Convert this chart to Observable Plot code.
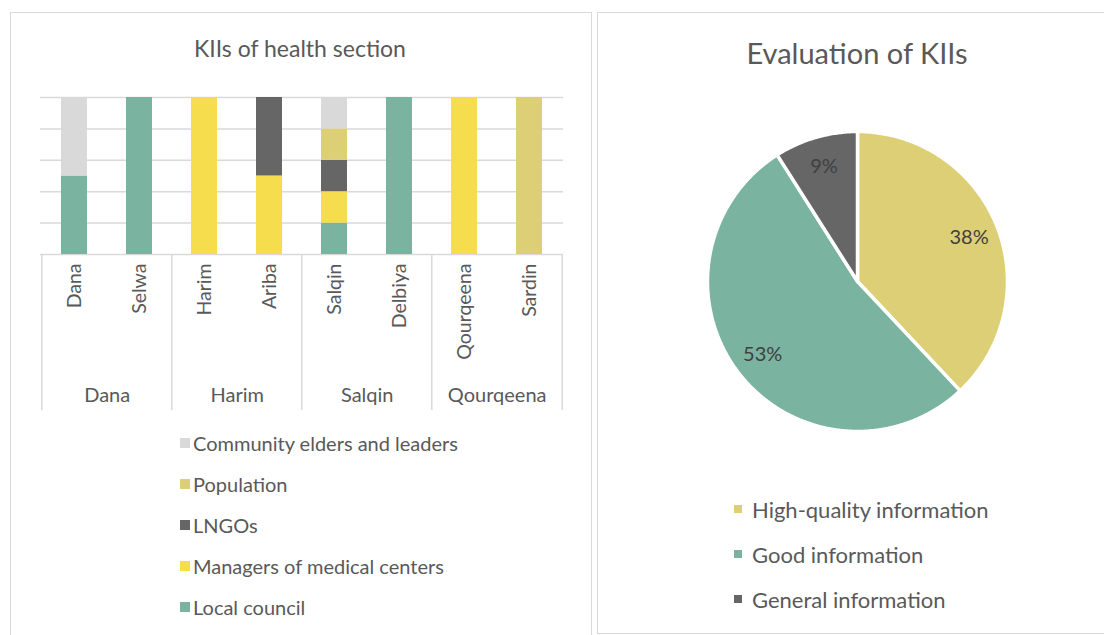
<!DOCTYPE html>
<html>
<head>
<meta charset="utf-8">
<script src="https://cdn.jsdelivr.net/npm/d3@7"></script>
<script src="https://cdn.jsdelivr.net/npm/@observablehq/plot@0.6"></script>
<style>
  html, body { margin: 0; padding: 0; background: #fff; }
  body { width: 1104px; height: 635px; overflow: hidden; position: relative; font-family: Lato, "Open Sans", sans-serif; color: #595959; }
  .panel { position: absolute; border: 1.5px solid #d9d9d9; box-sizing: border-box; background: #fff; }
  .abs { position: absolute; }
  .title { position: absolute; text-align: center; white-space: nowrap; color: #595959; }
  .leg { position: absolute; }
  .leg .row { position: absolute; white-space: nowrap; display: flex; align-items: center; }
  .leg .sw { display: inline-block; }
</style>
</head>
<body>
<div class="panel" style="left:10px; top:12px; width:582px; height:700px;"></div>
<div class="panel" style="left:597px; top:12px; width:540px; height:622px;"></div>
<div class="title" id="t1" style="left:0px; width:600px; top:33px; font-size:23px; line-height:30px;">KIIs of health section</div>
<div class="title" id="t2" style="left:597px; width:520px; top:35px; font-size:29px; line-height:36px;">Evaluation of KIIs</div>
<div class="abs" id="bars" style="left:0px; top:80px;"></div>
<div class="abs" id="pie" style="left:697px; top:121px;"></div>
<div class="leg" id="leg1" style="left:180px; top:0px;"></div>
<div class="leg" id="leg2" style="left:734px; top:0px;"></div>
<script>
// ---- Data: KIIs of health section ----
const sites = ["Dana", "Selwa", "Harim", "Ariba", "Salqin", "Delbiya", "Qourqeena", "Sardin"];
const districts = ["Dana", "Dana", "Harim", "Harim", "Salqin", "Salqin", "Qourqeena", "Qourqeena"];
// stacked bottom -> top
const roles = ["Local council", "Managers of medical centers", "LNGOs", "Population", "Community elders and leaders"];
const localCouncil = [1, 1, 0, 0, 1, 1, 0, 0];
const managers     = [0, 0, 1, 1, 1, 0, 1, 0];
const lngos        = [0, 0, 0, 1, 1, 0, 0, 0];
const population   = [0, 0, 0, 0, 1, 0, 0, 1];
const community    = [1, 0, 0, 0, 1, 0, 0, 0];
const roleColors = ["#7AB39F", "#F5DD4D", "#666666", "#DDCF76", "#D9D9D9"];
const gridTicks = [0, 0.2, 0.4, 0.6, 0.8, 1];

// ---- Data: Evaluation of KIIs ----
const evalLabels = ["High-quality information", "Good information", "General information"];
const evalValues = [38, 53, 9];
const evalColors = ["#DDCF76", "#7AB39F", "#666666"];

// ---- Bar chart ----
const series = [localCouncil, managers, lngos, population, community];
const rows = [];
roles.forEach((r, ri) => sites.forEach((s, si) => rows.push({site: s, role: r, count: series[ri][si]})));

const groupNames = Array.from(new Set(districts));
const groupFirst = groupNames.map(g => sites[districts.indexOf(g)]);
const groupLast = groupNames.map(g => sites[districts.lastIndexOf(g)]);

const W = 600, H = 340, mL = 40, mR = 37, mT = 17, mB = 166;
const step = (W - mL - mR) / sites.length;
const lineColor = "#d9d9d9";

const bars = Plot.plot({
  width: W, height: H,
  marginLeft: mL, marginRight: mR, marginTop: mT, marginBottom: mB,
  style: {fontFamily: "Lato, 'Open Sans', sans-serif", fontSize: "19px", color: "#595959", background: "transparent", overflow: "visible"},
  x: {domain: sites, paddingInner: 0.6, paddingOuter: 0.3, axis: null},
  y: {domain: [0, 1], axis: null},
  color: {domain: roles, range: roleColors},
  marks: [
    Plot.ruleY(gridTicks, {stroke: lineColor, strokeWidth: 1.5}),
    Plot.barY(rows, Plot.stackY({offset: "normalize", order: roles}, {x: "site", y: "count", fill: "role"})),
    Plot.ruleX(groupFirst, {x: d => d, dx: -step / 2, insetTop: H - mT - mB, insetBottom: -156, stroke: lineColor, strokeWidth: 1.5}),
    Plot.ruleX([groupLast[groupLast.length - 1]], {x: d => d, dx: step / 2, insetTop: H - mT - mB, insetBottom: -156, stroke: lineColor, strokeWidth: 1.5}),
    Plot.text(sites, {x: d => d, y: 0, dy: 9, rotate: -90, textAnchor: "end", fill: "#595959", fontSize: 19.5}),
    Plot.text(groupFirst, {x: d => d, y: 0, dx: step / 2, dy: 141, text: (d, i) => groupNames[i], fill: "#595959", fontSize: 20})
  ]
});
document.getElementById("bars").appendChild(bars);

// ---- Pie chart ----
const R = 150, PM = 10, PS = 2 * R + 2 * PM;
const arcs = d3.pie().sort(null).value(d => d)(evalValues);
const piePts = [];
arcs.forEach((a, i) => {
  const n = Math.max(4, Math.ceil((a.endAngle - a.startAngle) / 0.01));
  piePts.push({k: evalLabels[i], x: 0, y: 0});
  for (let j = 0; j <= n; j++) {
    const t = a.startAngle + (a.endAngle - a.startAngle) * j / n;
    piePts.push({k: evalLabels[i], x: Math.sin(t), y: Math.cos(t)});
  }
  piePts.push({k: evalLabels[i], x: 0, y: 0});
});
const pieLabels = arcs.map((a, i) => {
  const m = (a.startAngle + a.endAngle) / 2;
  return {x: 0.8 * Math.sin(m), y: 0.8 * Math.cos(m), t: evalValues[i] + "%"};
});
const pie = Plot.plot({
  width: PS, height: PS,
  margin: PM,
  style: {fontFamily: "Lato, 'Open Sans', sans-serif", background: "transparent", overflow: "visible"},
  x: {domain: [-1, 1], axis: null},
  y: {domain: [-1, 1], axis: null},
  color: {domain: evalLabels, range: evalColors},
  marks: [
    Plot.line(piePts, {x: "x", y: "y", z: "k", fill: "k", stroke: "white", strokeWidth: 3.5, strokeLinejoin: "round", curve: "linear"}),
    Plot.text(pieLabels, {x: "x", y: "y", text: "t", fill: "#404040", fontSize: 20})
  ]
});
document.getElementById("pie").appendChild(pie);

// ---- Legends ----
const leg1 = document.getElementById("leg1");
const legOrder = roles.map((r, i) => i).reverse();
legOrder.forEach((ri, k) => {
  const row = document.createElement("div");
  row.className = "row";
  row.style.top = (443 + 41 * k - 13) + "px";
  row.style.height = "26px";
  row.style.fontSize = "20px";
  const sw = document.createElement("span");
  sw.className = "sw";
  sw.style.cssText = `width:10px;height:10px;background:${roleColors[ri]};margin-right:3px;`;
  const tx = document.createElement("span");
  tx.textContent = roles[ri];
  row.append(sw, tx);
  leg1.appendChild(row);
});
const leg2 = document.getElementById("leg2");
evalLabels.forEach((l, k) => {
  const row = document.createElement("div");
  row.className = "row";
  row.style.top = (509 + 45 * k - 15) + "px";
  row.style.height = "30px";
  row.style.fontSize = "22px";
  const sw = document.createElement("span");
  sw.className = "sw";
  sw.style.cssText = `width:8px;height:8px;background:${evalColors[k]};margin-right:10px;`;
  const tx = document.createElement("span");
  tx.textContent = l;
  row.append(sw, tx);
  leg2.appendChild(row);
});
</script>
</body>
</html>
